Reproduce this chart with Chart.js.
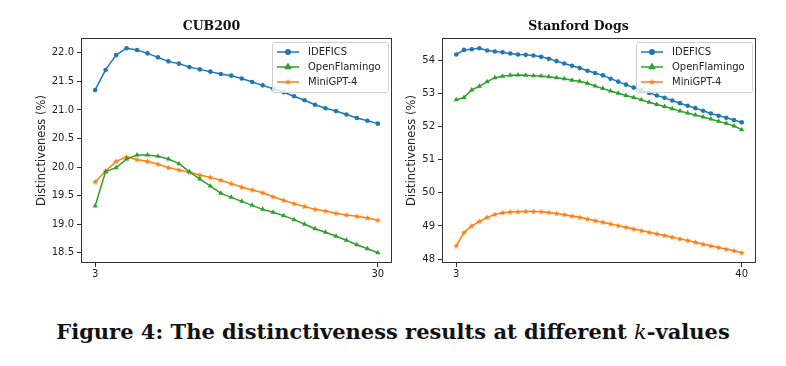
<!DOCTYPE html>
<html>
<head>
<meta charset="utf-8">
<script src="https://cdn.jsdelivr.net/npm/chart.js@4.4.1/dist/chart.umd.min.js"></script>
<style>
  html, body { margin: 0; padding: 0; background: #fff; }
  #wrap { position: relative; width: 786px; height: 366px; overflow: hidden; }
  #cub { position: absolute; left: 0; top: 0; }
  #dogs { position: absolute; left: 400px; top: 0; }
  #caption {
    position: absolute; left: 0; top: 319px; width: 786px;
    text-align: center; white-space: nowrap; line-height: 1;
    font: bold 21px "DejaVu Serif", serif; color: #111;
  }
  #caption i { font-weight: normal; }
</style>
</head>
<body>
<div id="wrap">
  <canvas id="cub" width="400" height="290"></canvas>
  <canvas id="dogs" width="386" height="290"></canvas>
  <div id="caption">Figure 4: The distinctiveness results at different <i>k</i>-values</div>
</div>
<script>
const seriesNames = ['IDEFICS', 'OpenFlamingo', 'MiniGPT-4'];

// CUB200, k = 3..30
const kCub = [3, 4, 5, 6, 7, 8, 9, 10, 11, 12, 13, 14, 15, 16, 17, 18, 19, 20, 21, 22, 23, 24, 25, 26, 27, 28, 29, 30];
const cubIdefics = [21.35, 21.70, 21.96, 22.08, 22.05, 21.99, 21.92, 21.85, 21.81, 21.75, 21.71, 21.67, 21.63, 21.60,
  21.55, 21.49, 21.43, 21.37, 21.31, 21.24, 21.17, 21.09, 21.03, 20.98, 20.92, 20.86, 20.81, 20.76];
const cubFlamingo = [19.32, 19.92, 19.99, 20.14, 20.21, 20.21, 20.19, 20.14, 20.06, 19.92, 19.79, 19.67, 19.54, 19.47,
  19.40, 19.33, 19.26, 19.21, 19.15, 19.08, 19.00, 18.92, 18.86, 18.79, 18.72, 18.64, 18.57, 18.50];
const cubMiniGpt = [19.74, 19.93, 20.10, 20.18, 20.13, 20.10, 20.05, 19.99, 19.95, 19.91, 19.86, 19.82, 19.77, 19.71,
  19.65, 19.60, 19.55, 19.48, 19.42, 19.36, 19.31, 19.26, 19.23, 19.19, 19.16, 19.14, 19.11, 19.07];
const cubXTicks = [3, 30];
const cubYTicks = [18.5, 19.0, 19.5, 20.0, 20.5, 21.0, 21.5, 22.0];

// Stanford Dogs, k = 3..40
const kDogs = [3, 4, 5, 6, 7, 8, 9, 10, 11, 12, 13, 14, 15, 16, 17, 18, 19, 20, 21, 22, 23, 24, 25, 26, 27, 28, 29, 30,
  31, 32, 33, 34, 35, 36, 37, 38, 39, 40];
const dogsIdefics = [54.18, 54.32, 54.34, 54.37, 54.30, 54.27, 54.25, 54.21, 54.18, 54.17, 54.15, 54.11, 54.05, 53.98,
  53.91, 53.84, 53.77, 53.69, 53.62, 53.55, 53.45, 53.36, 53.27, 53.18, 53.10, 53.02, 52.94, 52.87, 52.79, 52.71,
  52.63, 52.56, 52.48, 52.40, 52.33, 52.27, 52.20, 52.13];
const dogsFlamingo = [52.81, 52.88, 53.11, 53.22, 53.36, 53.48, 53.52, 53.55, 53.56, 53.55, 53.54, 53.53, 53.51, 53.48,
  53.45, 53.40, 53.37, 53.31, 53.23, 53.15, 53.08, 53.01, 52.94, 52.88, 52.81, 52.74, 52.67, 52.61, 52.54, 52.47,
  52.41, 52.35, 52.29, 52.23, 52.16, 52.10, 52.02, 51.91];
const dogsMiniGpt = [48.40, 48.80, 49.00, 49.14, 49.26, 49.35, 49.40, 49.42, 49.43, 49.44, 49.44, 49.43, 49.41, 49.38,
  49.34, 49.30, 49.26, 49.21, 49.16, 49.11, 49.06, 49.01, 48.96, 48.91, 48.86, 48.81, 48.76, 48.71, 48.66, 48.61,
  48.56, 48.51, 48.45, 48.40, 48.35, 48.30, 48.25, 48.19];
const dogsXTicks = [3, 40];
const dogsYTicks = [48, 49, 50, 51, 52, 53, 54];

const colors = ['#1f77b4', '#2ca02c', '#ff7f0e'];

// small filled 5-point star, like matplotlib's '*'
function starImage(color) {
  const c = document.createElement('canvas');
  c.width = 7; c.height = 7;
  const g = c.getContext('2d');
  g.fillStyle = color;
  g.beginPath();
  for (let i = 0; i < 10; i++) {
    const r = i % 2 ? 1.4 : 3.3;
    const a = -Math.PI / 2 + i * Math.PI / 5;
    g.lineTo(3.5 + r * Math.cos(a), 3.7 + r * Math.sin(a));
  }
  g.closePath();
  g.fill();
  return c;
}

const markers = [
  { pointStyle: 'circle', radius: 2.3 },
  { pointStyle: 'triangle', radius: 3 },
  { pointStyle: starImage(colors[2]), radius: 3 },
];

const frameAndLegend = {
  id: 'frameAndLegend',
  afterDatasetsDraw(chart) {
    const { ctx, chartArea: a } = chart;
    ctx.save();
    ctx.strokeStyle = '#333';
    ctx.lineWidth = 1;
    ctx.strokeRect(Math.round(a.left) + 0.5, Math.round(a.top) + 0.5,
      Math.round(a.right - a.left) - 1, Math.round(a.bottom - a.top) - 1);

    // matplotlib-style legend, upper right
    const w = 116, h = 50;
    const bx = a.right - 4 - w, by = a.top + 4;
    ctx.fillStyle = 'rgba(255,255,255,0.8)';
    ctx.strokeStyle = '#d0d0d0';
    ctx.beginPath();
    ctx.roundRect(bx + 0.5, by + 0.5, w, h, 2);
    ctx.fill();
    ctx.stroke();
    ctx.font = '10px "DejaVu Sans"';
    ctx.textBaseline = 'middle';
    chart.data.datasets.forEach((ds, i) => {
      const y = by + 10 + i * 15;
      ctx.strokeStyle = ds.borderColor;
      ctx.fillStyle = ds.borderColor;
      ctx.lineWidth = 1.5;
      ctx.beginPath();
      ctx.moveTo(bx + 5, y);
      ctx.lineTo(bx + 27, y);
      ctx.stroke();
      Chart.helpers.drawPoint(ctx, { pointStyle: ds.pointStyle, radius: ds.pointRadius, rotation: 0, borderWidth: 1 }, bx + 16, y);
      ctx.fillStyle = '#222';
      ctx.fillText(ds.label, bx + 36, y + 0.5);
    });
    ctx.restore();
  }
};

function buildChart(id, o) {
  const all = o.series.flat();
  const lo = Math.min(...all), hi = Math.max(...all);
  const yPad = (hi - lo) * 0.05;
  const xPad = (o.ks[o.ks.length - 1] - o.ks[0]) * 0.05;
  const tickFont = { family: 'DejaVu Sans', size: 10 };

  return new Chart(document.getElementById(id), {
    type: 'line',
    data: {
      datasets: o.series.map((vals, i) => ({
        label: seriesNames[i],
        data: o.ks.map((k, j) => ({ x: k, y: vals[j] })),
        borderColor: colors[i],
        backgroundColor: colors[i],
        borderWidth: 1.5,
        pointStyle: markers[i].pointStyle,
        pointRadius: markers[i].radius,
        pointBorderWidth: 0,
        tension: 0,
      })),
    },
    options: {
      responsive: false,
      animation: false,
      devicePixelRatio: 1,
      layout: { padding: { left: o.padLeft, right: o.padRight, top: 0, bottom: 0 } },
      plugins: {
        legend: { display: false },
        tooltip: { enabled: false },
        title: {
          display: true,
          text: o.title,
          color: '#111',
          font: { family: 'DejaVu Serif', size: 12.5, weight: 'bold', lineHeight: 1.2 },
          padding: { top: 19.5, bottom: 3.5 },
        },
      },
      scales: {
        x: {
          type: 'linear',
          min: o.ks[0] - xPad,
          max: o.ks[o.ks.length - 1] + xPad,
          afterBuildTicks: s => { s.ticks = o.xTicks.map(v => ({ value: v })); },
          afterFit: s => { s.height = 27; },
          ticks: { color: '#222', font: tickFont, padding: 1, maxRotation: 0 },
          grid: { drawOnChartArea: false, drawTicks: true, tickLength: 4, color: '#333' },
          border: { display: false },
        },
        y: {
          min: lo - yPad,
          max: hi + yPad,
          afterBuildTicks: s => { s.ticks = o.yTicks.map(v => ({ value: v })); },
          afterFit: s => { s.width = o.yWidth; },
          ticks: { color: '#222', font: tickFont, padding: 3, callback: v => v.toFixed(o.yDigits) },
          grid: { drawOnChartArea: false, drawTicks: true, tickLength: 4, color: '#333' },
          border: { display: false },
          title: {
            display: true,
            text: 'Distinctiveness (%)',
            color: '#222',
            font: { family: 'DejaVu Sans', size: 11.5 },
            padding: { top: 4, bottom: 0 },
          },
        },
      },
    },
    plugins: [frameAndLegend],
  });
}

buildChart('cub', {
  title: 'CUB200', ks: kCub, series: [cubIdefics, cubFlamingo, cubMiniGpt],
  xTicks: cubXTicks, yTicks: cubYTicks, yDigits: 1,
  padLeft: 31, padRight: 8, yWidth: 50,
});

buildChart('dogs', {
  title: 'Stanford Dogs', ks: kDogs, series: [dogsIdefics, dogsFlamingo, dogsMiniGpt],
  xTicks: dogsXTicks, yTicks: dogsYTicks, yDigits: 0,
  padLeft: 1, padRight: 30, yWidth: 41,
});
</script>
</body>
</html>
